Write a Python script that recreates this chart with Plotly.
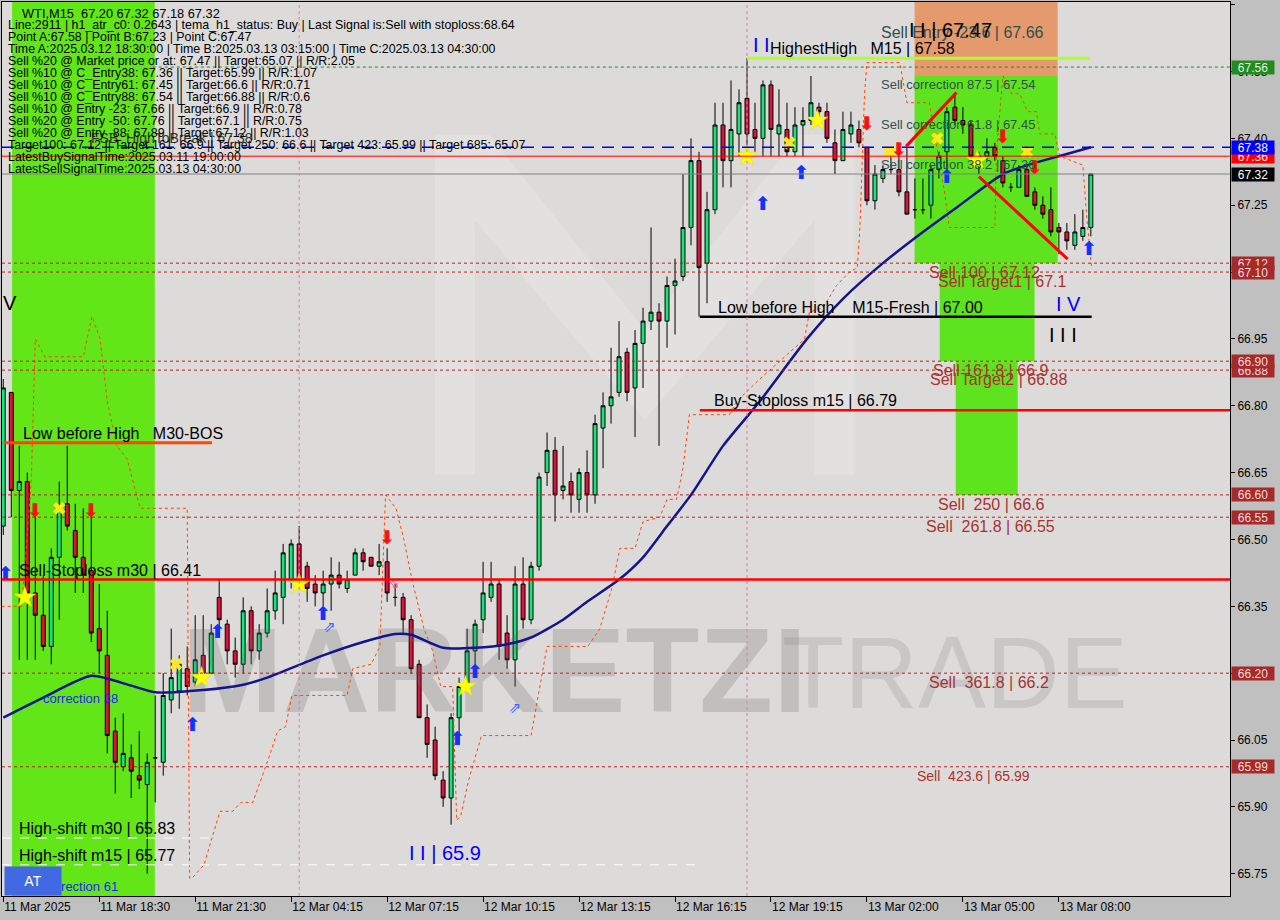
import plotly.graph_objects as go

# ---------------- data ----------------
tick_bars = [0, 12, 24, 36, 48, 60, 72, 84, 96, 108, 120, 132]
tick_labels = ["11 Mar 2025", "11 Mar 18:30", "11 Mar 21:30", "12 Mar 04:15", "12 Mar 07:15",
               "12 Mar 10:15", "12 Mar 13:15", "12 Mar 16:15", "12 Mar 19:15", "13 Mar 02:00",
               "13 Mar 05:00", "13 Mar 08:00"]
price_ticks = [65.75, 65.90, 66.05, 66.20, 66.35, 66.50, 66.65, 66.80, 66.95, 67.10, 67.25, 67.40, 67.55, 67.70]

opens = [66.53, 66.83, 66.61, 66.63, 66.38, 66.33, 66.26, 66.46, 66.58, 66.52,
         66.46, 66.43, 66.30, 66.24, 66.07, 65.99, 66.01, 65.97, 65.95, 66.01,
         66.00, 66.14, 66.16, 66.21, 66.18, 66.24, 66.20, 66.37, 66.31, 66.25,
         66.22, 66.34, 66.25, 66.29, 66.34, 66.37, 66.41, 66.49, 66.44, 66.40,
         66.38, 66.40, 66.42, 66.39, 66.42, 66.47, 66.46, 66.44, 66.45, 66.37,
         66.37, 66.32, 66.22, 66.10, 66.05, 65.96, 65.92, 66.10, 66.17, 66.25,
         66.32, 66.37, 66.40, 66.29, 66.23, 66.40, 66.32, 66.44, 66.65, 66.70,
         66.61, 66.63, 66.59, 66.65, 66.60, 66.75, 66.80, 66.83, 66.92, 66.84,
         66.94, 66.99, 67.01, 66.99, 67.07, 67.09, 67.20, 67.35, 67.12, 67.24,
         67.43, 67.35, 67.41, 67.49, 67.42, 67.40, 67.52, 67.41, 67.42, 67.37,
         67.43, 67.44, 67.47, 67.46, 67.39, 67.35, 67.41, 67.42, 67.38, 67.26,
         67.31, 67.33, 67.33, 67.28, 67.24, 67.24, 67.25, 67.33, 67.37, 67.47,
         67.44, 67.43, 67.36, 67.36, 67.38, 67.35, 67.29, 67.29, 67.33, 67.28,
         67.25, 67.24, 67.20, 67.19, 67.16, 67.18, 67.20]
highs = [66.86, 66.83, 66.71, 66.65, 66.58, 66.42, 66.48, 66.63, 66.71, 66.58,
         66.57, 66.57, 66.40, 66.34, 66.10, 66.11, 66.04, 66.07, 66.02, 66.15,
         66.20, 66.30, 66.24, 66.26, 66.33, 66.33, 66.31, 66.41, 66.32, 66.28,
         66.37, 66.35, 66.31, 66.39, 66.43, 66.49, 66.50, 66.53, 66.45, 66.42,
         66.43, 66.46, 66.45, 66.43, 66.48, 66.48, 66.46, 66.49, 66.48, 66.40,
         66.38, 66.33, 66.23, 66.13, 66.08, 65.98, 66.11, 66.19, 66.30, 66.32,
         66.45, 66.45, 66.41, 66.33, 66.44, 66.46, 66.45, 66.65, 66.74, 66.73,
         66.71, 66.65, 66.66, 66.70, 66.78, 66.83, 66.93, 66.99, 66.93, 66.97,
         67.02, 67.20, 67.03, 67.09, 67.13, 67.32, 67.40, 67.37, 67.28, 67.48,
         67.48, 67.53, 67.51, 67.58, 67.48, 67.53, 67.53, 67.51, 67.48, 67.47,
         67.47, 67.54, 67.48, 67.48, 67.42, 67.46, 67.46, 67.44, 67.38, 67.34,
         67.34, 67.36, 67.37, 67.38, 67.31, 67.31, 67.34, 67.37, 67.47, 67.50,
         67.47, 67.44, 67.37, 67.40, 67.39, 67.36, 67.30, 67.34, 67.34, 67.29,
         67.27, 67.29, 67.21, 67.21, 67.23, 67.24, 67.32]
lows = [66.51, 66.55, 66.23, 66.23, 66.23, 66.25, 66.22, 66.32, 66.52, 66.38,
        66.38, 66.27, 66.20, 66.02, 65.93, 65.98, 65.92, 65.94, 65.75, 65.91,
        65.97, 66.11, 66.12, 66.15, 66.17, 66.20, 66.20, 66.28, 66.22, 66.19,
        66.20, 66.22, 66.23, 66.28, 66.32, 66.31, 66.39, 66.39, 66.36, 66.35,
        66.35, 66.34, 66.39, 66.38, 66.42, 66.43, 66.44, 66.42, 66.36, 66.35,
        66.29, 66.20, 66.10, 66.01, 65.96, 65.90, 65.86, 66.04, 66.16, 66.20,
        66.29, 66.36, 66.23, 66.21, 66.17, 66.30, 66.31, 66.43, 66.62, 66.54,
        66.59, 66.56, 66.56, 66.56, 66.58, 66.66, 66.76, 66.82, 66.81, 66.73,
        66.84, 66.97, 66.71, 66.93, 66.96, 67.08, 67.16, 67.00, 67.03, 67.23,
        67.29, 67.29, 67.36, 67.36, 67.37, 67.36, 67.36, 67.36, 67.36, 67.36,
        67.36, 67.43, 67.43, 67.39, 67.32, 67.35, 67.39, 67.38, 67.25, 67.24,
        67.30, 67.32, 67.27, 67.23, 67.22, 67.23, 67.22, 67.31, 67.32, 67.43,
        67.41, 67.35, 67.32, 67.35, 67.35, 67.29, 67.28, 67.29, 67.27, 67.24,
        67.22, 67.18, 67.14, 67.15, 67.15, 67.17, 67.18]
closes = [66.84, 66.61, 66.63, 66.38, 66.33, 66.26, 66.46, 66.57, 66.53, 66.46,
          66.42, 66.29, 66.25, 66.06, 66.00, 66.02, 65.98, 65.96, 66.00, 66.01,
          66.15, 66.19, 66.22, 66.17, 66.23, 66.20, 66.29, 66.32, 66.25, 66.22,
          66.34, 66.25, 66.29, 66.34, 66.38, 66.47, 66.49, 66.41, 66.39, 66.38,
          66.40, 66.42, 66.40, 66.41, 66.47, 66.45, 66.44, 66.45, 66.38, 66.37,
          66.32, 66.21, 66.10, 66.04, 65.97, 65.92, 66.10, 66.17, 66.25, 66.31,
          66.38, 66.40, 66.26, 66.23, 66.40, 66.32, 66.44, 66.64, 66.70, 66.60,
          66.62, 66.60, 66.65, 66.60, 66.76, 66.80, 66.82, 66.91, 66.83, 66.94,
          66.99, 67.01, 66.99, 67.07, 67.08, 67.20, 67.35, 67.11, 67.24, 67.43,
          67.35, 67.42, 67.48, 67.41, 67.40, 67.52, 67.42, 67.43, 67.37, 67.43,
          67.44, 67.48, 67.46, 67.40, 67.35, 67.42, 67.43, 67.39, 67.26, 67.32,
          67.33, 67.33, 67.28, 67.23, 67.24, 67.24, 67.33, 67.36, 67.46, 67.44,
          67.43, 67.36, 67.36, 67.37, 67.36, 67.30, 67.29, 67.33, 67.27, 67.25,
          67.23, 67.19, 67.19, 67.17, 67.19, 67.20, 67.32]
bars = list(range(len(opens)))

ma_bars = [0, 5, 11, 16, 19, 25, 30, 33, 40, 45, 49, 51, 55, 59, 63, 66, 70, 73, 77, 80, 83, 86,
           90, 94.6, 100.5, 105, 110, 115, 119.6, 125, 129, 132, 136]
ma_vals = [66.10, 66.145, 66.194, 66.172, 66.157, 66.162, 66.174, 66.19, 66.24, 66.27, 66.288,
           66.286, 66.257, 66.257, 66.265, 66.28, 66.32, 66.36, 66.41, 66.46, 66.53, 66.60,
           66.71, 66.81, 66.95, 67.04, 67.12, 67.19, 67.25, 67.32, 67.345, 67.36, 67.38]

# orange dashed trailing line, vertices
trail_bars = [-0.2, 2.3, 3.5, 4.0, 5.2, 10.0, 11.1, 12.1, 13.0, 14.2, 15.5, 16.7, 17.1, 23.0, 23.3,
              23.6, 25.1, 27.1, 28.7, 29.7, 31.2, 32.2, 33.2, 34.3, 35.3, 36.1, 43.0, 43.7, 46.0,
              47.1, 47.8, 49.1, 50.1, 51.1, 52.6, 53.7, 54.7, 56.2, 56.7, 57.2, 58.2, 59.8, 66.0,
              67.0, 68.0, 73.1, 74.6, 76.1, 77.1, 79.0, 80.0, 82.1, 83.0, 84.2, 85.0, 85.8, 90.8,
              91.7, 94.6, 100.2, 100.8, 102.5, 104.2, 105.8, 106.8, 107.1, 107.7, 108.0, 112.1,
              113.0, 115.8, 117.7, 118.3, 124.0, 124.2, 125.0, 126.1, 127.1, 128.1, 129.2, 129.6,
              131.5, 132.1, 135.0, 135.5, 136.1]
trail_vals = [66.35, 66.35, 66.63, 66.95, 66.91, 66.91, 67.00, 66.95, 66.81, 66.71, 66.68, 66.60,
              66.57, 66.57, 65.74, 65.74, 65.77, 65.89, 65.89, 65.91, 65.91, 65.96, 66.01, 66.07,
              66.08, 66.15, 66.15, 66.21, 66.22, 66.26, 66.60, 66.57, 66.50, 66.41, 66.30, 66.25,
              66.17, 66.17, 65.87, 65.88, 65.96, 66.06, 66.06, 66.16, 66.26, 66.26, 66.30, 66.39,
              66.48, 66.48, 66.54, 66.55, 66.59, 66.59, 66.66, 66.78, 66.78, 66.81, 66.86, 66.95,
              67.01, 67.02, 67.07, 67.10, 67.11, 67.19, 67.50, 67.57, 67.57, 67.48, 67.48, 67.28,
              67.20, 67.20, 67.37, 67.54, 67.50, 67.50, 67.46, 67.46, 67.41, 67.41, 67.36, 67.34,
              67.22, 67.11]

star_bars = [2.7, 24.8, 37.0, 57.8, 93.0, 101.8, 121.8]
star_prices = [66.37, 66.19, 66.40, 66.17, 67.36, 67.44, 67.35]
cross_bars = [7.0, 21.6, 98.3, 110.8, 116.8, 128.0]
cross_prices = [66.57, 66.22, 67.39, 67.37, 67.40, 67.37]
buy_bars = [0.3, 23.7, 26.8, 40.0, 56.8, 59.0, 95.0, 99.8, 118.0, 135.8]
buy_prices = [66.42, 66.08, 66.29, 66.33, 66.05, 66.20, 67.25, 67.32, 67.31, 67.15]
buy_open_bars = [40.8, 64.0]
buy_open_prices = [66.30, 66.12]
sell_bars = [4.0, 11.0, 48.0, 108.0, 112.0, 125.0, 129.0]
sell_prices = [66.56, 66.56, 66.50, 67.43, 67.37, 67.40, 67.33]
sell_open_bars = [48.8]
sell_open_prices = [66.40]

brown_levels = [67.12, 67.10, 66.90, 66.88, 66.60, 66.55, 66.20, 65.99]

info_lines = [
    "Line:2911 | h1_atr_c0: 0.2643 | tema_h1_status: Buy | Last Signal is:Sell with stoploss:68.64",
    "Point A:67.58 | Point B:67.23 | Point C:67.47",
    "Time A:2025.03.12 18:30:00 | Time B:2025.03.13 03:15:00 | Time C:2025.03.13 04:30:00",
    "Sell %20 @ Market price or at: 67.47 || Target:65.07 || R/R:2.05",
    "Sell %10 @ C_Entry38: 67.36 || Target:65.99 || R/R:1.07",
    "Sell %10 @ C_Entry61: 67.45 || Target:66.6 || R/R:0.71",
    "Sell %10 @ C_Entry88: 67.54 || Target:66.88 || R/R:0.6",
    "Sell %10 @ Entry -23: 67.66 || Target:66.9 || R/R:0.78",
    "Sell %20 @ Entry -50: 67.76 || Target:67.1 || R/R:0.75",
    "Sell %20 @ Entry -88: 67.89 || Target:67.12 || R/R:1.03",
    "Target100: 67.12 || Target 161: 66.9 || Target 250: 66.6 || Target 423: 65.99 || Target 685: 65.07",
    "LatestBuySignalTime:2025.03.11 19:00:00",
    "LatestSellSignalTime:2025.03.13 04:30:00",
]

# ---------------- figure ----------------
FONT = "Liberation Sans"
Y0, Y1 = 65.700, 67.706
X0, X1 = -0.16, 153.4

fig = go.Figure()

# watermark (drawn first, under the candles)
fig.add_trace(go.Scatter(x=[61.4], y=[66.18], mode="text", text=["<b>MARKETZI</b>"],
                         textfont=dict(family=FONT, size=121, color="rgba(105,105,105,0.24)"),
                         hoverinfo="skip", showlegend=False))
fig.add_trace(go.Scatter(x=[119.0], y=[66.18], mode="text", text=["TRADE"],
                         textfont=dict(family=FONT, size=102, color="rgba(120,120,120,0.20)"),
                         hoverinfo="skip", showlegend=False))

fig.add_trace(go.Candlestick(
    x=bars, open=opens, high=highs, low=lows, close=closes,
    increasing=dict(line=dict(color="black", width=1), fillcolor="#14E678"),
    decreasing=dict(line=dict(color="black", width=1), fillcolor="#DC143C"),
    whiskerwidth=0, hoverinfo="skip", showlegend=False))

fig.add_trace(go.Scatter(x=trail_bars, y=trail_vals, mode="lines",
                         line=dict(color="#FF4500", width=1, dash="3px,3px"),
                         hoverinfo="skip", showlegend=False))
fig.add_trace(go.Scatter(x=ma_bars, y=ma_vals, mode="lines",
                         line=dict(color="#14148C", width=2.5, shape="spline", smoothing=0.6),
                         hoverinfo="skip", showlegend=False))

def markers(xs, ys, symbol, color, size, lw=0, lc=None):
    fig.add_trace(go.Scatter(x=xs, y=ys, mode="markers",
                             marker=dict(symbol=symbol, color=color, size=size,
                                         line=dict(width=lw, color=lc or color)),
                             hoverinfo="skip", showlegend=False))

def glyphs(xs, ys, char, color, size):
    fig.add_trace(go.Scatter(x=xs, y=ys, mode="text", text=[char] * len(xs),
                             textposition="middle center",
                             textfont=dict(family="DejaVu Sans", size=size, color=color),
                             hoverinfo="skip", showlegend=False))

markers(star_bars, star_prices, "star", "#FFFF00", 16, 0.5, "#E0E000")
markers(cross_bars, cross_prices, "x", "#FFE81A", 11)
glyphs(buy_bars, buy_prices, "<b>⬆</b>", "#1432FF", 19)
glyphs(buy_open_bars, buy_open_prices, "⇗", "#3C64FF", 15)
glyphs(sell_bars, sell_prices, "<b>⬇</b>", "#FF1010", 19)
glyphs(sell_open_bars, sell_open_prices, "⇘", "#FF5080", 15)

shapes = []
# watermark logo "M" (subtle)
shapes.append(dict(type="path", xref="x", yref="y", layer="below", line_width=0,
                   fillcolor="rgba(255,255,255,0.18)",
                   path="M 53.96,66.645 L 53.96,67.408 L 60.8,67.408 L 80.2,66.97 L 99.6,67.408 "
                        "L 106.46,67.408 L 106.46,66.645 L 101.46,66.645 L 101.46,67.217 L 80.2,66.768 "
                        "L 58.96,67.217 L 58.96,66.645 Z"))
# zones (below traces)
shapes.append(dict(type="rect", xref="x", yref="paper", x0=1.1, x1=18.95, y0=0, y1=1,
                   fillcolor="#62E617", line_width=0, layer="below"))
shapes.append(dict(type="rect", xref="x", yref="y", x0=113.96, x1=131.85, y0=67.54, y1=Y1,
                   fillcolor="#E49A6C", line_width=0, layer="below"))
shapes.append(dict(type="rect", xref="x", yref="y", x0=113.96, x1=131.85, y0=67.12, y1=67.54,
                   fillcolor="#5EE41E", line_width=0, layer="below"))
shapes.append(dict(type="rect", xref="x", yref="y", x0=117.1, x1=128.96, y0=66.90, y1=67.12,
                   fillcolor="#5EE41E", line_width=0, layer="below"))
shapes.append(dict(type="rect", xref="x", yref="y", x0=119.1, x1=126.85, y0=66.60, y1=66.90,
                   fillcolor="#5EE41E", line_width=0, layer="below"))

def hline(y, x0, x1, color, width=1, dash="solid"):
    shapes.append(dict(type="line", xref="x", yref="y", x0=x0, x1=x1, y0=y, y1=y,
                       line=dict(color=color, width=width, dash=dash), layer="above"))

for lv in brown_levels:
    hline(lv, X0, X1, "#B22222", 1, "3px,3px")
hline(67.56, 18.7, X1, "#228B22", 1, "dot")
hline(67.32, X0, X1, "#808080", 1)
hline(67.36, X0, X1, "#FF0000", 1)
hline(67.38, X0, X1, "#0000FF", 1.5, "12px,8px")
hline(66.41, X0, X1, "#FF0000", 2.5)
hline(66.79, 87.1, X1, "#FF0000", 2.5)
hline(66.717, 0.0, 26.1, "#FF4500", 3)
hline(67.00, 87.1, 136.1, "#000000", 2.5)
hline(67.58, 93.0, 135.9, "#ADFF2F", 3)
hline(65.83, X0, 26.1, "#FFFFFF", 1, "dash")
hline(65.77, X0, 86.5, "#FFFFFF", 1, "dash")
for vb in [37.0, 93.0]:
    shapes.append(dict(type="line", xref="x", yref="paper", x0=vb, x1=vb, y0=0, y1=1,
                       line=dict(color="#FF69B4", width=1, dash="3px,3px"), layer="above"))
# ABC structure lines
shapes.append(dict(type="line", xref="x", yref="y", x0=112.9, y0=67.382, x1=119.2, y1=67.503,
                   line=dict(color="#FF0000", width=3), layer="above"))
shapes.append(dict(type="line", xref="x", yref="y", x0=122.0, y0=67.314, x1=133.1, y1=67.129,
                   line=dict(color="#FF0000", width=3), layer="above"))

ann = []

def label(text, x, y, size=16, color="black", yanchor="bottom", xanchor="left", **kw):
    ann.append(dict(text=text, x=x, y=y, xref="x", yref="y", xanchor=xanchor, yanchor=yanchor,
                    showarrow=False, font=dict(family=FONT, size=size, color=color),
                    borderpad=0, **kw))

def screen(text, px, py, size=12.4, color="black"):
    ann.append(dict(text=text, x=0, y=1, xref="paper", yref="paper", xanchor="left",
                    yanchor="middle", xshift=px - 2, yshift=-(py - 2), showarrow=False,
                    font=dict(family=FONT, size=size, color=color), borderpad=0))

screen("FSB_HighToBreak | 67.38", 90, 138, 14, "#333333")
screen("WTI,M15  67.20 67.32 67.18 67.32", 21, 13, 12.8)
for i, t in enumerate(info_lines):
    screen(t, 7, 25 + 12 * i)

DS = "#2F4F4F"
BR = "#A83232"
label("V", -0.1, 67.031, 20, yanchor="middle")
label("Low before High   M30-BOS", 2.3, 66.717)
label("Sell-Stoploss m30 | 66.41", 1.84, 66.41)
label("correction 38", 4.84, 66.144, 13, "#1E1EFF", yanchor="middle")
label("High-shift m30 | 65.83", 1.84, 65.83)
label("High-shift m15 | 65.77", 1.84, 65.77)
label("correction 61", 4.84, 65.722, 13, "#1E1EFF", yanchor="middle")
label("I I | 65.9", 50.6, 65.797, 20, "#0000FF", yanchor="middle")
label("Low before High    M15-Fresh | 67.00", 89.3, 67.00)
label("Buy-Stoploss m15 | 66.79", 88.7, 66.79)
label("I I", 93.6, 67.609, 20, "#0000FF", yanchor="middle")
label("HighestHigh   M15 | 67.58", 95.8, 67.58)
label("Sell Entry -23.6 | 67.66", 109.6, 67.66, 16, DS, yanchor="top")
label("I I | 67.47", 113.1, 67.643, 20, "black", yanchor="middle")
label("Sell correction 87.5 | 67.54", 109.6, 67.54, 13, DS, yanchor="top")
label("Sell correction 61.8 | 67.45", 109.6, 67.45, 13, DS, yanchor="top")
label("Sell correction 38.2 | 67.36", 109.6, 67.36, 13, DS, yanchor="top")
label("Sell 100 | 67.12", 115.6, 67.12, 16, BR, yanchor="top")
label("Sell Target1 | 67.1", 116.8, 67.10, 16, BR, yanchor="top")
label("Sell 161.8 | 66.9", 116.1, 66.90, 16, BR, yanchor="top")
label("Sell Target2 | 66.88", 115.8, 66.88, 16, BR, yanchor="top")
label("Sell  250 | 66.6", 116.7, 66.60, 16, BR, yanchor="top")
label("Sell  261.8 | 66.55", 115.3, 66.55, 16, BR, yanchor="top")
label("Sell  361.8 | 66.2", 115.6, 66.20, 16, BR, yanchor="top")
label("Sell  423.6 | 65.99", 114.1, 65.99, 14, BR, yanchor="top")
label("I V", 131.5, 67.028, 20, "#0000FF", yanchor="middle")
label("I I I", 130.6, 66.959, 20, "black", yanchor="middle")

# AT button
ann.append(dict(text="AT", x=0, y=0, xref="paper", yref="paper", xanchor="left", yanchor="bottom",
                xshift=2, showarrow=False, width=56, height=28, bgcolor="#4169E1",
                font=dict(family=FONT, size=14, color="white"), borderpad=0))

# right-axis price boxes
boxes = [(67.56, "#228B22", "#DFF5DA"), (67.36, "#FF0000", "#FFE4E4"), (67.38, "#0000FF", "#FFFFFF"),
         (67.32, "#000000", "#FFFFFF"), (67.12, "#A52A2A", "#F3D9D9"), (67.10, "#A52A2A", "#F3D9D9"),
         (66.88, "#A52A2A", "#F3D9D9"), (66.90, "#A52A2A", "#F3D9D9"), (66.60, "#A52A2A", "#F3D9D9"),
         (66.55, "#A52A2A", "#F3D9D9"), (66.20, "#A52A2A", "#F3D9D9"), (65.99, "#A52A2A", "#F3D9D9")]
for p, bg, fg in boxes:
    ann.append(dict(text=f"{p:.2f}", x=1, y=p, xref="paper", yref="y", xanchor="left",
                    yanchor="middle", xshift=1, showarrow=False, width=42, height=13, bgcolor=bg,
                    font=dict(family=FONT, size=12, color=fg), borderpad=0))

fig.update_layout(
    width=1280, height=920,
    margin=dict(l=2, r=50, t=2, b=24),
    paper_bgcolor="#C0C0C0", plot_bgcolor="#DDDBD9",
    showlegend=False, shapes=shapes, annotations=ann,
    font=dict(family=FONT, size=12, color="black"),
    xaxis=dict(range=[X0, X1], tickvals=tick_bars, ticktext=tick_labels, ticks="outside",
               ticklen=5, tickcolor="black", showgrid=False, zeroline=False, showline=True,
               linecolor="black", linewidth=1, mirror=True, ticklabelposition="outside right",
               tickfont=dict(family=FONT, size=12, color="black"), rangeslider=dict(visible=False),
               fixedrange=True),
    yaxis=dict(side="right", range=[Y0, Y1], tickvals=price_ticks,
               ticktext=[f"{v:.2f}" for v in price_ticks], ticks="outside", ticklen=4,
               tickcolor="black", showgrid=False, zeroline=False, showline=True, linecolor="black",
               linewidth=1, mirror=True, tickfont=dict(family=FONT, size=12, color="black"),
               fixedrange=True),
)

fig.write_html("out.html", config={"displayModeBar": False},
               post_script="document.body.style.margin='0';document.body.style.background='#C0C0C0';")
